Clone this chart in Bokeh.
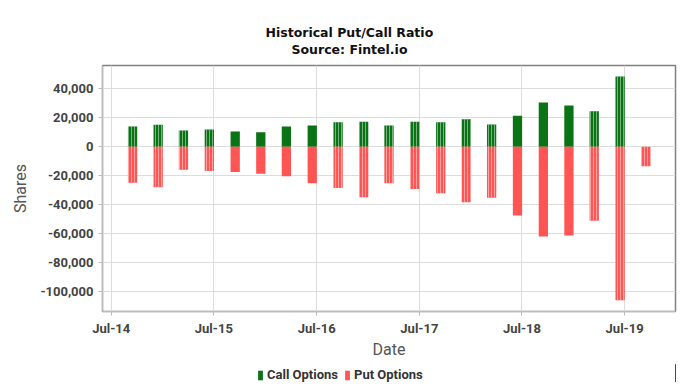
from datetime import datetime, timedelta
from bokeh.plotting import figure
from bokeh.layouts import column
from bokeh.models import (ColumnDataSource, Range1d, FixedTicker, DatetimeTickFormatter,
                          NumeralTickFormatter, Legend, LegendItem, Title)
from bokeh.embed import file_html
from bokeh.resources import INLINE

# ---- data ----
dates = ["2014-09-15", "2014-12-15", "2015-03-15", "2015-06-15", "2015-09-15", "2015-12-15",
         "2016-03-15", "2016-06-15", "2016-09-15", "2016-12-15", "2017-03-15", "2017-06-15",
         "2017-09-15", "2017-12-15", "2018-03-15", "2018-06-15", "2018-09-15", "2018-12-15",
         "2019-03-15", "2019-06-15", "2019-09-15"]
calls = [14000, 15200, 11200, 11900, 10500, 9900, 14000, 14700, 16800, 17200, 14700, 17200,
         16800, 19000, 15300, 21400, 30500, 28500, 24400, 48500, 0]
puts = [-24800, -27900, -15900, -16800, -17500, -18600, -20300, -25100, -28500, -34800, -25100,
        -29200, -32000, -38200, -35200, -47400, -61900, -61200, -51000, -105800, -13400]
tick_dates = ["2014-07-01", "2015-07-01", "2016-07-01", "2017-07-01", "2018-07-01", "2019-07-01"]
y_ticks = [-100000, -80000, -60000, -40000, -20000, 0, 20000, 40000]
series_names = ["Call Options", "Put Options"]

# style: which bars look striped (gapped daily bars) in the reference
call_hatch = ["|", "|", "|", "|", " ", " ", " ", " ", "|", "|", "|", "|", "|", "|", "|", " ", " ", " ", "|", "|", "|"]
put_hatch = ["|", "|", "|", "|", " ", " ", " ", " ", "|", "|", "|", "|", "|", "|", "|", " ", " ", " ", "|", "|", "|"]

GREEN = "#0a7316"
RED = "#ff5555"

x = [datetime.strptime(d, "%Y-%m-%d") for d in dates]
src = ColumnDataSource(dict(x=x, calls=calls, puts=puts, zero=[0] * len(x),
                            ch=call_hatch, ph=put_hatch))

x_range = Range1d(datetime(2014, 5, 31), datetime(2019, 12, 29))
p = figure(width=680, height=364, output_backend="svg", toolbar_location=None,
           x_axis_type="datetime", x_range=x_range, y_range=Range1d(-113600, 56000))
p.title = None
p.add_layout(Title(text="Source: Fintel.io", align="left", text_font="DejaVu Sans",
                   text_font_size="12.5px", text_font_style="bold", text_color="#111111",
                   offset=189, standoff=18), "above")
p.add_layout(Title(text="Historical Put/Call Ratio", align="left", text_font="DejaVu Sans",
                   text_font_size="12.5px", text_font_style="bold", text_color="#111111",
                   offset=163, standoff=-18), "above")

w = timedelta(days=33).total_seconds() * 1000
bar_style = dict(line_color=None, hatch_color="#ffffff", hatch_alpha=0.45,
                 hatch_scale=3, hatch_weight=1)
rc = p.vbar(x="x", top="calls", bottom="zero", width=w, source=src, fill_color=GREEN,
            hatch_pattern="ch", **bar_style)
rp = p.vbar(x="x", top="zero", bottom="puts", width=w, source=src, fill_color=RED,
            hatch_pattern="ph", **bar_style)

tick_ms = [datetime.strptime(d, "%Y-%m-%d").timestamp() * 1000 for d in tick_dates]
p.xaxis.ticker = FixedTicker(ticks=tick_ms)
fmt = "%b-%y"
p.xaxis.formatter = DatetimeTickFormatter(days=fmt, months=fmt, years=fmt, hours=fmt,
                                          minutes=fmt, seconds=fmt, milliseconds=fmt)
p.yaxis.ticker = FixedTicker(ticks=y_ticks)
p.yaxis.formatter = NumeralTickFormatter(format="0,0")

for ax in (p.xaxis[0], p.yaxis[0]):
    ax.major_label_text_font = "Roboto"
    ax.major_label_text_font_style = "bold"
    ax.major_label_text_font_size = "13px"
    ax.major_label_text_color = "#444444"
    ax.axis_label_text_font = "Roboto"
    ax.axis_label_text_font_style = "normal"
    ax.axis_label_text_font_size = "16px"
    ax.axis_label_text_color = "#555555"
    ax.axis_line_color = "#bbbbbb"
    ax.major_tick_line_color = "#bbbbbb"
    ax.minor_tick_line_color = None
    ax.major_tick_in = 0
    ax.major_tick_out = 4
p.xaxis.axis_label = "Date"
p.yaxis.axis_label = "Shares"
p.xaxis.axis_label_standoff = 1
p.yaxis.axis_label_standoff = 7

p.xgrid.grid_line_color = "#dddddd"
p.ygrid.grid_line_color = "#dddddd"
p.outline_line_color = "#808080"
p.outline_line_width = 1.5

p.min_border_left = 102
p.min_border_right = 5
p.min_border_top = 65
p.min_border_bottom = 53

# ---- legend strip below the chart (same series, drawn outside its view) ----
lg = figure(width=680, height=18, output_backend="svg", toolbar_location=None,
            x_axis_location=None, y_axis_location=None,
            x_range=Range1d(0, 1), y_range=Range1d(0, 1))
lg.grid.visible = False
lg.outline_line_color = None
lg.min_border_left = 0
lg.min_border_right = 0
lg.min_border_top = 0
lg.min_border_bottom = 0
lc = lg.vbar(x="x", top="calls", bottom="zero", width=w, source=src,
             fill_color=GREEN, line_color=None)
lp = lg.vbar(x="x", top="zero", bottom="puts", width=w, source=src,
             fill_color=RED, line_color=None)
legend = Legend(items=[LegendItem(label=series_names[0], renderers=[lc]),
                       LegendItem(label=series_names[1], renderers=[lp])],
                orientation="horizontal", location=(155, 0),
                glyph_width=6, glyph_height=12, label_text_font="Roboto",
                label_text_font_style="bold", label_text_font_size="13px",
                label_text_color="#333333", border_line_color=None, spacing=6,
                label_standoff=4, padding=1, margin=0, background_fill_alpha=0)
lg.add_layout(legend, "center")

layout = column(p, lg, spacing=0)
open("out.html", "w").write(file_html(layout, INLINE))
